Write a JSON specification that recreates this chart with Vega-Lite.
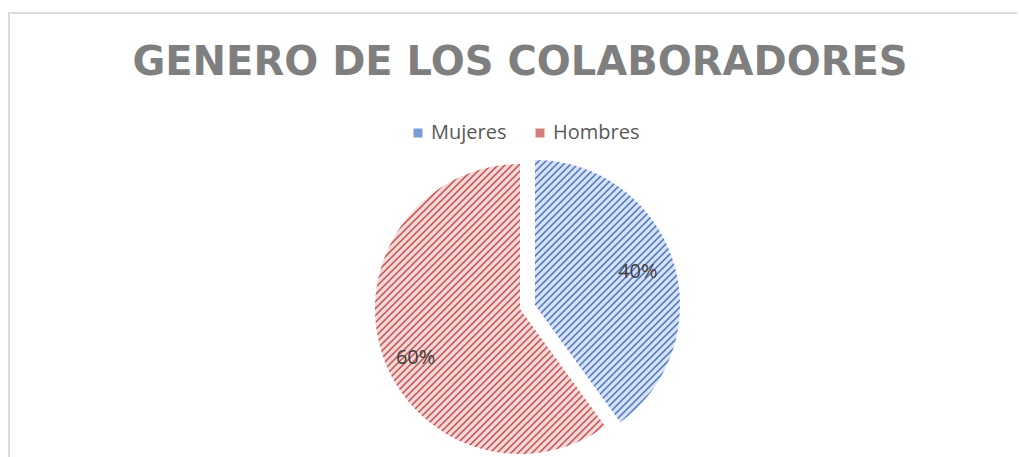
{
 "$schema": "https://vega.github.io/schema/vega-lite/v6.json",
 "width": 1010, "height": 444,
 "autosize": {"type": "none"},
 "padding": {"left": 9, "top": 13, "right": 0, "bottom": 0},
 "background": "white",
 "config": {"view": {"stroke": null}},
 "title": {"text": "GENERO DE LOS COLABORADORES", "font": "DejaVu Sans", "fontWeight": "bold", "fontSize": 40, "color": "#7f7f7f", "anchor": "middle", "dx": 6, "offset": 0, "dy": 103, "baseline": "alphabetic"},
 "data": {"values": [
  {"genero": "Mujeres", "porcentaje": 0.4},
  {"genero": "Hombres", "porcentaje": 0.6}
 ]},
 "encoding": {
  "theta": {"field": "porcentaje", "type": "quantitative", "stack": true},
  "order": {"field": "genero", "sort": "descending"},
  "detail": {"field": "genero", "type": "nominal"}
 },
 "layer": [
  {"mark": {"type": "rect", "fill": null, "stroke": "#d9d9d9", "strokeWidth": 1.5, "strokeDash": [1008, 1456, 460]},
   "encoding": {"theta": null, "order": null, "detail": null}},
  {"mark": {"type": "arc", "radius": 145, "xOffset": 6, "yOffset": 74},
   "encoding": {"fillOpacity": {"condition": {"test": "datum.genero === 'Hombres'", "value": 1}, "value": 0},
    "fill": {"value": {"gradient": "linear", "x1": 0, "y1": 0, "x2": 0.9401, "y2": 1.1854, "stops": [
{"offset":0,"color":"#f2dcdb"},{"offset":0.005,"color":"#f2dcdb"},{"offset":0.00875,"color":"#c94a48"},
{"offset":0.0125,"color":"#f2dcdb"},{"offset":0.0175,"color":"#f2dcdb"},{"offset":0.02125,"color":"#c94a48"},
{"offset":0.025,"color":"#f2dcdb"},{"offset":0.03,"color":"#f2dcdb"},{"offset":0.03375,"color":"#c94a48"},
{"offset":0.0375,"color":"#f2dcdb"},{"offset":0.0425,"color":"#f2dcdb"},{"offset":0.04625,"color":"#c94a48"},
{"offset":0.05,"color":"#f2dcdb"},{"offset":0.055,"color":"#f2dcdb"},{"offset":0.05875,"color":"#c94a48"},
{"offset":0.0625,"color":"#f2dcdb"},{"offset":0.0675,"color":"#f2dcdb"},{"offset":0.07125,"color":"#c94a48"},
{"offset":0.075,"color":"#f2dcdb"},{"offset":0.08,"color":"#f2dcdb"},{"offset":0.08375,"color":"#c94a48"},
{"offset":0.0875,"color":"#f2dcdb"},{"offset":0.0925,"color":"#f2dcdb"},{"offset":0.09625,"color":"#c94a48"},
{"offset":0.1,"color":"#f2dcdb"},{"offset":0.105,"color":"#f2dcdb"},{"offset":0.10875,"color":"#c94a48"},
{"offset":0.1125,"color":"#f2dcdb"},{"offset":0.1175,"color":"#f2dcdb"},{"offset":0.12125,"color":"#c94a48"},
{"offset":0.125,"color":"#f2dcdb"},{"offset":0.13,"color":"#f2dcdb"},{"offset":0.13375,"color":"#c94a48"},
{"offset":0.1375,"color":"#f2dcdb"},{"offset":0.1425,"color":"#f2dcdb"},{"offset":0.14625,"color":"#c94a48"},
{"offset":0.15,"color":"#f2dcdb"},{"offset":0.155,"color":"#f2dcdb"},{"offset":0.15875,"color":"#c94a48"},
{"offset":0.1625,"color":"#f2dcdb"},{"offset":0.1675,"color":"#f2dcdb"},{"offset":0.17125,"color":"#c94a48"},
{"offset":0.175,"color":"#f2dcdb"},{"offset":0.18,"color":"#f2dcdb"},{"offset":0.18375,"color":"#c94a48"},
{"offset":0.1875,"color":"#f2dcdb"},{"offset":0.1925,"color":"#f2dcdb"},{"offset":0.19625,"color":"#c94a48"},
{"offset":0.2,"color":"#f2dcdb"},{"offset":0.205,"color":"#f2dcdb"},{"offset":0.20875,"color":"#c94a48"},
{"offset":0.2125,"color":"#f2dcdb"},{"offset":0.2175,"color":"#f2dcdb"},{"offset":0.22125,"color":"#c94a48"},
{"offset":0.225,"color":"#f2dcdb"},{"offset":0.23,"color":"#f2dcdb"},{"offset":0.23375,"color":"#c94a48"},
{"offset":0.2375,"color":"#f2dcdb"},{"offset":0.2425,"color":"#f2dcdb"},{"offset":0.24625,"color":"#c94a48"},
{"offset":0.25,"color":"#f2dcdb"},{"offset":0.255,"color":"#f2dcdb"},{"offset":0.25875,"color":"#c94a48"},
{"offset":0.2625,"color":"#f2dcdb"},{"offset":0.2675,"color":"#f2dcdb"},{"offset":0.27125,"color":"#c94a48"},
{"offset":0.275,"color":"#f2dcdb"},{"offset":0.28,"color":"#f2dcdb"},{"offset":0.28375,"color":"#c94a48"},
{"offset":0.2875,"color":"#f2dcdb"},{"offset":0.2925,"color":"#f2dcdb"},{"offset":0.29625,"color":"#c94a48"},
{"offset":0.3,"color":"#f2dcdb"},{"offset":0.305,"color":"#f2dcdb"},{"offset":0.30875,"color":"#c94a48"},
{"offset":0.3125,"color":"#f2dcdb"},{"offset":0.3175,"color":"#f2dcdb"},{"offset":0.32125,"color":"#c94a48"},
{"offset":0.325,"color":"#f2dcdb"},{"offset":0.33,"color":"#f2dcdb"},{"offset":0.33375,"color":"#c94a48"},
{"offset":0.3375,"color":"#f2dcdb"},{"offset":0.3425,"color":"#f2dcdb"},{"offset":0.34625,"color":"#c94a48"},
{"offset":0.35,"color":"#f2dcdb"},{"offset":0.355,"color":"#f2dcdb"},{"offset":0.35875,"color":"#c94a48"},
{"offset":0.3625,"color":"#f2dcdb"},{"offset":0.3675,"color":"#f2dcdb"},{"offset":0.37125,"color":"#c94a48"},
{"offset":0.375,"color":"#f2dcdb"},{"offset":0.38,"color":"#f2dcdb"},{"offset":0.38375,"color":"#c94a48"},
{"offset":0.3875,"color":"#f2dcdb"},{"offset":0.3925,"color":"#f2dcdb"},{"offset":0.39625,"color":"#c94a48"},
{"offset":0.4,"color":"#f2dcdb"},{"offset":0.405,"color":"#f2dcdb"},{"offset":0.40875,"color":"#c94a48"},
{"offset":0.4125,"color":"#f2dcdb"},{"offset":0.4175,"color":"#f2dcdb"},{"offset":0.42125,"color":"#c94a48"},
{"offset":0.425,"color":"#f2dcdb"},{"offset":0.43,"color":"#f2dcdb"},{"offset":0.43375,"color":"#c94a48"},
{"offset":0.4375,"color":"#f2dcdb"},{"offset":0.4425,"color":"#f2dcdb"},{"offset":0.44625,"color":"#c94a48"},
{"offset":0.45,"color":"#f2dcdb"},{"offset":0.455,"color":"#f2dcdb"},{"offset":0.45875,"color":"#c94a48"},
{"offset":0.4625,"color":"#f2dcdb"},{"offset":0.4675,"color":"#f2dcdb"},{"offset":0.47125,"color":"#c94a48"},
{"offset":0.475,"color":"#f2dcdb"},{"offset":0.48,"color":"#f2dcdb"},{"offset":0.48375,"color":"#c94a48"},
{"offset":0.4875,"color":"#f2dcdb"},{"offset":0.4925,"color":"#f2dcdb"},{"offset":0.49625,"color":"#c94a48"},
{"offset":0.5,"color":"#f2dcdb"},{"offset":0.505,"color":"#f2dcdb"},{"offset":0.50875,"color":"#c94a48"},
{"offset":0.5125,"color":"#f2dcdb"},{"offset":0.5175,"color":"#f2dcdb"},{"offset":0.52125,"color":"#c94a48"},
{"offset":0.525,"color":"#f2dcdb"},{"offset":0.53,"color":"#f2dcdb"},{"offset":0.53375,"color":"#c94a48"},
{"offset":0.5375,"color":"#f2dcdb"},{"offset":0.5425,"color":"#f2dcdb"},{"offset":0.54625,"color":"#c94a48"},
{"offset":0.55,"color":"#f2dcdb"},{"offset":0.555,"color":"#f2dcdb"},{"offset":0.55875,"color":"#c94a48"},
{"offset":0.5625,"color":"#f2dcdb"},{"offset":0.5675,"color":"#f2dcdb"},{"offset":0.57125,"color":"#c94a48"},
{"offset":0.575,"color":"#f2dcdb"},{"offset":0.58,"color":"#f2dcdb"},{"offset":0.58375,"color":"#c94a48"},
{"offset":0.5875,"color":"#f2dcdb"},{"offset":0.5925,"color":"#f2dcdb"},{"offset":0.59625,"color":"#c94a48"},
{"offset":0.6,"color":"#f2dcdb"},{"offset":0.605,"color":"#f2dcdb"},{"offset":0.60875,"color":"#c94a48"},
{"offset":0.6125,"color":"#f2dcdb"},{"offset":0.6175,"color":"#f2dcdb"},{"offset":0.62125,"color":"#c94a48"},
{"offset":0.625,"color":"#f2dcdb"},{"offset":0.63,"color":"#f2dcdb"},{"offset":0.63375,"color":"#c94a48"},
{"offset":0.6375,"color":"#f2dcdb"},{"offset":0.6425,"color":"#f2dcdb"},{"offset":0.64625,"color":"#c94a48"},
{"offset":0.65,"color":"#f2dcdb"},{"offset":0.655,"color":"#f2dcdb"},{"offset":0.65875,"color":"#c94a48"},
{"offset":0.6625,"color":"#f2dcdb"},{"offset":0.6675,"color":"#f2dcdb"},{"offset":0.67125,"color":"#c94a48"},
{"offset":0.675,"color":"#f2dcdb"},{"offset":0.68,"color":"#f2dcdb"},{"offset":0.68375,"color":"#c94a48"},
{"offset":0.6875,"color":"#f2dcdb"},{"offset":0.6925,"color":"#f2dcdb"},{"offset":0.69625,"color":"#c94a48"},
{"offset":0.7,"color":"#f2dcdb"},{"offset":0.705,"color":"#f2dcdb"},{"offset":0.70875,"color":"#c94a48"},
{"offset":0.7125,"color":"#f2dcdb"},{"offset":0.7175,"color":"#f2dcdb"},{"offset":0.72125,"color":"#c94a48"},
{"offset":0.725,"color":"#f2dcdb"},{"offset":0.73,"color":"#f2dcdb"},{"offset":0.73375,"color":"#c94a48"},
{"offset":0.7375,"color":"#f2dcdb"},{"offset":0.7425,"color":"#f2dcdb"},{"offset":0.74625,"color":"#c94a48"},
{"offset":0.75,"color":"#f2dcdb"},{"offset":0.755,"color":"#f2dcdb"},{"offset":0.75875,"color":"#c94a48"},
{"offset":0.7625,"color":"#f2dcdb"},{"offset":0.7675,"color":"#f2dcdb"},{"offset":0.77125,"color":"#c94a48"},
{"offset":0.775,"color":"#f2dcdb"},{"offset":0.78,"color":"#f2dcdb"},{"offset":0.78375,"color":"#c94a48"},
{"offset":0.7875,"color":"#f2dcdb"},{"offset":0.7925,"color":"#f2dcdb"},{"offset":0.79625,"color":"#c94a48"},
{"offset":0.8,"color":"#f2dcdb"},{"offset":0.805,"color":"#f2dcdb"},{"offset":0.80875,"color":"#c94a48"},
{"offset":0.8125,"color":"#f2dcdb"},{"offset":0.8175,"color":"#f2dcdb"},{"offset":0.82125,"color":"#c94a48"},
{"offset":0.825,"color":"#f2dcdb"},{"offset":0.83,"color":"#f2dcdb"},{"offset":0.83375,"color":"#c94a48"},
{"offset":0.8375,"color":"#f2dcdb"},{"offset":0.8425,"color":"#f2dcdb"},{"offset":0.84625,"color":"#c94a48"},
{"offset":0.85,"color":"#f2dcdb"},{"offset":0.855,"color":"#f2dcdb"},{"offset":0.85875,"color":"#c94a48"},
{"offset":0.8625,"color":"#f2dcdb"},{"offset":0.8675,"color":"#f2dcdb"},{"offset":0.87125,"color":"#c94a48"},
{"offset":0.875,"color":"#f2dcdb"},{"offset":0.88,"color":"#f2dcdb"},{"offset":0.88375,"color":"#c94a48"},
{"offset":0.8875,"color":"#f2dcdb"},{"offset":0.8925,"color":"#f2dcdb"},{"offset":0.89625,"color":"#c94a48"},
{"offset":0.9,"color":"#f2dcdb"},{"offset":0.905,"color":"#f2dcdb"},{"offset":0.90875,"color":"#c94a48"},
{"offset":0.9125,"color":"#f2dcdb"},{"offset":0.9175,"color":"#f2dcdb"},{"offset":0.92125,"color":"#c94a48"},
{"offset":0.925,"color":"#f2dcdb"},{"offset":0.93,"color":"#f2dcdb"},{"offset":0.93375,"color":"#c94a48"},
{"offset":0.9375,"color":"#f2dcdb"},{"offset":1,"color":"#f2dcdb"}]}}}},
  {"mark": {"type": "arc", "radius": 145, "xOffset": 21, "yOffset": 70},
   "encoding": {"fillOpacity": {"condition": {"test": "datum.genero === 'Mujeres'", "value": 1}, "value": 0},
    "fill": {"value": {"gradient": "linear", "x1": 0, "y1": 0, "x2": 0.9055, "y2": 1.636, "stops": [
{"offset":0,"color":"#dae3f3"},{"offset":0.005,"color":"#dae3f3"},{"offset":0.00875,"color":"#4472c4"},
{"offset":0.0125,"color":"#dae3f3"},{"offset":0.0175,"color":"#dae3f3"},{"offset":0.02125,"color":"#4472c4"},
{"offset":0.025,"color":"#dae3f3"},{"offset":0.03,"color":"#dae3f3"},{"offset":0.03375,"color":"#4472c4"},
{"offset":0.0375,"color":"#dae3f3"},{"offset":0.0425,"color":"#dae3f3"},{"offset":0.04625,"color":"#4472c4"},
{"offset":0.05,"color":"#dae3f3"},{"offset":0.055,"color":"#dae3f3"},{"offset":0.05875,"color":"#4472c4"},
{"offset":0.0625,"color":"#dae3f3"},{"offset":0.0675,"color":"#dae3f3"},{"offset":0.07125,"color":"#4472c4"},
{"offset":0.075,"color":"#dae3f3"},{"offset":0.08,"color":"#dae3f3"},{"offset":0.08375,"color":"#4472c4"},
{"offset":0.0875,"color":"#dae3f3"},{"offset":0.0925,"color":"#dae3f3"},{"offset":0.09625,"color":"#4472c4"},
{"offset":0.1,"color":"#dae3f3"},{"offset":0.105,"color":"#dae3f3"},{"offset":0.10875,"color":"#4472c4"},
{"offset":0.1125,"color":"#dae3f3"},{"offset":0.1175,"color":"#dae3f3"},{"offset":0.12125,"color":"#4472c4"},
{"offset":0.125,"color":"#dae3f3"},{"offset":0.13,"color":"#dae3f3"},{"offset":0.13375,"color":"#4472c4"},
{"offset":0.1375,"color":"#dae3f3"},{"offset":0.1425,"color":"#dae3f3"},{"offset":0.14625,"color":"#4472c4"},
{"offset":0.15,"color":"#dae3f3"},{"offset":0.155,"color":"#dae3f3"},{"offset":0.15875,"color":"#4472c4"},
{"offset":0.1625,"color":"#dae3f3"},{"offset":0.1675,"color":"#dae3f3"},{"offset":0.17125,"color":"#4472c4"},
{"offset":0.175,"color":"#dae3f3"},{"offset":0.18,"color":"#dae3f3"},{"offset":0.18375,"color":"#4472c4"},
{"offset":0.1875,"color":"#dae3f3"},{"offset":0.1925,"color":"#dae3f3"},{"offset":0.19625,"color":"#4472c4"},
{"offset":0.2,"color":"#dae3f3"},{"offset":0.205,"color":"#dae3f3"},{"offset":0.20875,"color":"#4472c4"},
{"offset":0.2125,"color":"#dae3f3"},{"offset":0.2175,"color":"#dae3f3"},{"offset":0.22125,"color":"#4472c4"},
{"offset":0.225,"color":"#dae3f3"},{"offset":0.23,"color":"#dae3f3"},{"offset":0.23375,"color":"#4472c4"},
{"offset":0.2375,"color":"#dae3f3"},{"offset":0.2425,"color":"#dae3f3"},{"offset":0.24625,"color":"#4472c4"},
{"offset":0.25,"color":"#dae3f3"},{"offset":0.255,"color":"#dae3f3"},{"offset":0.25875,"color":"#4472c4"},
{"offset":0.2625,"color":"#dae3f3"},{"offset":0.2675,"color":"#dae3f3"},{"offset":0.27125,"color":"#4472c4"},
{"offset":0.275,"color":"#dae3f3"},{"offset":0.28,"color":"#dae3f3"},{"offset":0.28375,"color":"#4472c4"},
{"offset":0.2875,"color":"#dae3f3"},{"offset":0.2925,"color":"#dae3f3"},{"offset":0.29625,"color":"#4472c4"},
{"offset":0.3,"color":"#dae3f3"},{"offset":0.305,"color":"#dae3f3"},{"offset":0.30875,"color":"#4472c4"},
{"offset":0.3125,"color":"#dae3f3"},{"offset":0.3175,"color":"#dae3f3"},{"offset":0.32125,"color":"#4472c4"},
{"offset":0.325,"color":"#dae3f3"},{"offset":0.33,"color":"#dae3f3"},{"offset":0.33375,"color":"#4472c4"},
{"offset":0.3375,"color":"#dae3f3"},{"offset":0.3425,"color":"#dae3f3"},{"offset":0.34625,"color":"#4472c4"},
{"offset":0.35,"color":"#dae3f3"},{"offset":0.355,"color":"#dae3f3"},{"offset":0.35875,"color":"#4472c4"},
{"offset":0.3625,"color":"#dae3f3"},{"offset":0.3675,"color":"#dae3f3"},{"offset":0.37125,"color":"#4472c4"},
{"offset":0.375,"color":"#dae3f3"},{"offset":0.38,"color":"#dae3f3"},{"offset":0.38375,"color":"#4472c4"},
{"offset":0.3875,"color":"#dae3f3"},{"offset":0.3925,"color":"#dae3f3"},{"offset":0.39625,"color":"#4472c4"},
{"offset":0.4,"color":"#dae3f3"},{"offset":0.405,"color":"#dae3f3"},{"offset":0.40875,"color":"#4472c4"},
{"offset":0.4125,"color":"#dae3f3"},{"offset":0.4175,"color":"#dae3f3"},{"offset":0.42125,"color":"#4472c4"},
{"offset":0.425,"color":"#dae3f3"},{"offset":0.43,"color":"#dae3f3"},{"offset":0.43375,"color":"#4472c4"},
{"offset":0.4375,"color":"#dae3f3"},{"offset":0.4425,"color":"#dae3f3"},{"offset":0.44625,"color":"#4472c4"},
{"offset":0.45,"color":"#dae3f3"},{"offset":0.455,"color":"#dae3f3"},{"offset":0.45875,"color":"#4472c4"},
{"offset":0.4625,"color":"#dae3f3"},{"offset":0.4675,"color":"#dae3f3"},{"offset":0.47125,"color":"#4472c4"},
{"offset":0.475,"color":"#dae3f3"},{"offset":0.48,"color":"#dae3f3"},{"offset":0.48375,"color":"#4472c4"},
{"offset":0.4875,"color":"#dae3f3"},{"offset":0.4925,"color":"#dae3f3"},{"offset":0.49625,"color":"#4472c4"},
{"offset":0.5,"color":"#dae3f3"},{"offset":0.505,"color":"#dae3f3"},{"offset":0.50875,"color":"#4472c4"},
{"offset":0.5125,"color":"#dae3f3"},{"offset":0.5175,"color":"#dae3f3"},{"offset":0.52125,"color":"#4472c4"},
{"offset":0.525,"color":"#dae3f3"},{"offset":0.53,"color":"#dae3f3"},{"offset":0.53375,"color":"#4472c4"},
{"offset":0.5375,"color":"#dae3f3"},{"offset":0.5425,"color":"#dae3f3"},{"offset":0.54625,"color":"#4472c4"},
{"offset":0.55,"color":"#dae3f3"},{"offset":0.555,"color":"#dae3f3"},{"offset":0.55875,"color":"#4472c4"},
{"offset":0.5625,"color":"#dae3f3"},{"offset":0.5675,"color":"#dae3f3"},{"offset":0.57125,"color":"#4472c4"},
{"offset":0.575,"color":"#dae3f3"},{"offset":0.58,"color":"#dae3f3"},{"offset":0.58375,"color":"#4472c4"},
{"offset":0.5875,"color":"#dae3f3"},{"offset":0.5925,"color":"#dae3f3"},{"offset":0.59625,"color":"#4472c4"},
{"offset":0.6,"color":"#dae3f3"},{"offset":0.605,"color":"#dae3f3"},{"offset":0.60875,"color":"#4472c4"},
{"offset":0.6125,"color":"#dae3f3"},{"offset":0.6175,"color":"#dae3f3"},{"offset":0.62125,"color":"#4472c4"},
{"offset":0.625,"color":"#dae3f3"},{"offset":0.63,"color":"#dae3f3"},{"offset":0.63375,"color":"#4472c4"},
{"offset":0.6375,"color":"#dae3f3"},{"offset":0.6425,"color":"#dae3f3"},{"offset":0.64625,"color":"#4472c4"},
{"offset":0.65,"color":"#dae3f3"},{"offset":0.655,"color":"#dae3f3"},{"offset":0.65875,"color":"#4472c4"},
{"offset":0.6625,"color":"#dae3f3"},{"offset":0.6675,"color":"#dae3f3"},{"offset":0.67125,"color":"#4472c4"},
{"offset":0.675,"color":"#dae3f3"},{"offset":0.68,"color":"#dae3f3"},{"offset":0.68375,"color":"#4472c4"},
{"offset":0.6875,"color":"#dae3f3"},{"offset":0.6925,"color":"#dae3f3"},{"offset":0.69625,"color":"#4472c4"},
{"offset":0.7,"color":"#dae3f3"},{"offset":0.705,"color":"#dae3f3"},{"offset":0.70875,"color":"#4472c4"},
{"offset":0.7125,"color":"#dae3f3"},{"offset":0.7175,"color":"#dae3f3"},{"offset":0.72125,"color":"#4472c4"},
{"offset":0.725,"color":"#dae3f3"},{"offset":0.73,"color":"#dae3f3"},{"offset":0.73375,"color":"#4472c4"},
{"offset":0.7375,"color":"#dae3f3"},{"offset":1,"color":"#dae3f3"}]}}}},
  {"mark": {"type": "text", "radius": 115, "xOffset": 6, "yOffset": 74, "dx": 5, "dy": 13, "font": "Open Sans", "fontSize": 20, "align": "center", "baseline": "middle"},
   "encoding": {"text": {"field": "porcentaje", "type": "quantitative", "format": ".0%"}, "color": {"value": "#404040"},
    "opacity": {"condition": {"test": "datum.genero === 'Hombres'", "value": 1}, "value": 0}}},
  {"mark": {"type": "text", "radius": 108, "xOffset": 21, "yOffset": 70, "font": "Open Sans", "fontSize": 20, "align": "center", "baseline": "middle"},
   "encoding": {"text": {"field": "porcentaje", "type": "quantitative", "format": ".0%"}, "color": {"value": "#404040"},
    "opacity": {"condition": {"test": "datum.genero === 'Mujeres'", "value": 1}, "value": 0}}},
  {"mark": {"type": "arc", "radius": 0},
   "encoding": {"color": {"field": "genero", "type": "nominal",
    "scale": {"domain": ["Mujeres", "Hombres"], "range": ["#7b9bd6", "#d47f7d"]},
    "legend": {"orient": "none", "legendX": 399, "legendY": 110, "direction": "horizontal", "title": null, "symbolType": "square", "symbolSize": 81, "symbolStrokeWidth": 0, "labelFont": "Open Sans", "labelFontSize": 20, "labelColor": "#595959", "labelOffset": 3, "columnPadding": 23, "padding": 0}}}}
 ]
}
